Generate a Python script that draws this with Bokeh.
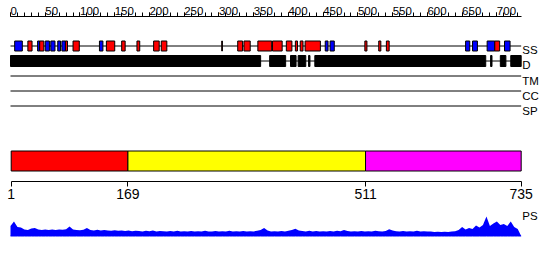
from bokeh.plotting import figure
from bokeh.models import Range1d, LinearAxis, FixedTicker
from bokeh.core.properties import value
from bokeh.embed import file_html
from bokeh.resources import INLINE

# ---------------- data ----------------
SEQ_LEN = 735

top_ticks = [0, 50, 100, 150, 200, 250, 300, 350, 400, 450, 500, 550, 600, 650, 700]
top_tick_labels = ["0", "50", "100", "150", "200", "250", "300", "350", "400",
                   "450", "500", "550", "600", "650", "700"]
top_minor_ticks = list(range(0, SEQ_LEN + 1, 10))

# secondary structure elements (H = helix, red; E = strand, blue)
ss_start = [6, 25, 39, 42, 50, 58, 68, 74, 79, 90,
            128, 138, 160, 182, 206, 217, 304, 327, 336, 356,
            377, 397, 410, 417, 424, 453, 460, 510, 530, 541,
            655, 665, 686, 697, 711]
ss_end = [17, 31, 42, 48, 56, 64, 72, 79, 82, 99,
          133, 150, 165, 186, 214, 225, 305, 334, 345, 376,
          391, 405, 413, 421, 446, 457, 466, 513, 533, 545,
          661, 672, 697, 704, 719]
ss_type = ["E", "H", "E", "H", "E", "E", "E", "E", "H", "H",
           "E", "H", "H", "H", "H", "H", "H", "H", "H", "H",
           "H", "H", "H", "H", "H", "E", "E", "H", "H", "H",
           "E", "E", "E", "H", "E"]

# disorder / domain track blocks
d_start = [0, 373, 403, 414, 429, 438, 691, 705, 720]
d_end = [360, 396, 411, 425, 431, 684, 693, 713, 735]

track_names = ["SS", "D", "TM", "CC", "SP"]

# domain boundaries
domain_start = [1, 169, 511]
domain_end = [169, 511, 735]
boundary_ticks = [1, 169, 511, 735]

# PS profile (sampled every 5 residues)
ps_pos = list(range(0, SEQ_LEN + 1, 5))
ps_val = [0.50, 0.72, 0.45, 0.42, 0.33, 0.30, 0.38, 0.40, 0.33, 0.30,
          0.33, 0.30, 0.32, 0.30, 0.33, 0.31, 0.34, 0.48, 0.32, 0.30,
          0.29, 0.31, 0.40, 0.30, 0.28, 0.31, 0.27, 0.30, 0.28, 0.26,
          0.29, 0.26, 0.27, 0.25, 0.27, 0.24, 0.26, 0.25, 0.23, 0.26,
          0.24, 0.27, 0.23, 0.25, 0.24, 0.22, 0.25, 0.23, 0.26, 0.22,
          0.24, 0.23, 0.25, 0.22, 0.24, 0.23, 0.26, 0.22, 0.23, 0.25,
          0.22, 0.24, 0.23, 0.26, 0.22, 0.24, 0.23, 0.25, 0.22, 0.24,
          0.23, 0.26, 0.30, 0.40, 0.27, 0.23, 0.24, 0.22, 0.25, 0.23,
          0.26, 0.30, 0.36, 0.27, 0.25, 0.23, 0.26, 0.22, 0.25, 0.23,
          0.24, 0.22, 0.25, 0.23, 0.26, 0.24, 0.30, 0.25, 0.22, 0.24,
          0.23, 0.25, 0.22, 0.24, 0.23, 0.26, 0.24, 0.22, 0.25, 0.34,
          0.27, 0.24, 0.23, 0.25, 0.22, 0.24, 0.23, 0.26, 0.22, 0.24,
          0.23, 0.22, 0.20, 0.21, 0.20, 0.21, 0.20, 0.22, 0.24, 0.30,
          0.45, 0.32, 0.40, 0.35, 0.52, 0.42, 0.55, 0.98, 0.50, 0.62,
          0.72, 0.55, 0.60, 0.50, 0.72, 0.45, 0.35, 0.00]

# ---------------- styles / layout ----------------
SS_COLORS = {"H": "#ff0000", "E": "#0000ff"}
DOMAIN_COLORS = ["#ff0000", "#ffff00", "#ff00ff"]
FONT = "Liberation Sans"

TOP_AXIS_Y = 15.5
TRACK_Y = {"SS": 45.5, "D": 60.5, "TM": 75.5, "CC": 90.5, "SP": 105.5}
LABEL_Y = {"SS": 49.5, "D": 64.5, "TM": 80.0, "CC": 95.0, "SP": 110.0}
SS_HALF = 5.0
D_HALF = 5.5
DOM_TOP, DOM_BOT = 150.5, 170.5
BOT_AXIS_Y = 180.5

p = figure(width=550, height=260, output_backend="svg", toolbar_location=None,
           x_axis_type=None, y_axis_type=None,
           x_range=Range1d(-14.4, 777.2), y_range=Range1d(260, 0),
           min_border=0, outline_line_color=None)
p.background_fill_color = "white"
p.border_fill_color = "white"
p.extra_y_ranges = {"ps": Range1d(-1.225, 11.775)}

# top ruler
top_axis = LinearAxis(fixed_location=TOP_AXIS_Y,
                      ticker=FixedTicker(ticks=top_ticks, minor_ticks=top_minor_ticks),
                      bounds=(0, SEQ_LEN))
top_axis.axis_line_color = "black"
top_axis.major_tick_out = 4
top_axis.major_tick_in = 0
top_axis.minor_tick_out = 4
top_axis.minor_tick_in = 0
top_axis.major_label_overrides = {t: "" for t in top_ticks}
p.add_layout(top_axis, "above")
p.text(x=top_ticks, y=[10.5] * len(top_ticks), text=top_tick_labels,
       text_font=value(FONT), text_font_size="11.5px", text_align="left",
       text_baseline="alphabetic", text_color="black")

# track base lines
line_names = ["SS", "D", "TM", "CC", "SP"]
p.segment(x0=[0] * len(line_names), x1=[SEQ_LEN] * len(line_names),
          y0=[TRACK_Y[n] for n in line_names], y1=[TRACK_Y[n] for n in line_names],
          line_color="black", line_width=1)

# SS boxes
p.quad(left=ss_start, right=ss_end,
       top=[TRACK_Y["SS"] - SS_HALF] * len(ss_start),
       bottom=[TRACK_Y["SS"] + SS_HALF] * len(ss_start),
       fill_color=[SS_COLORS[t] for t in ss_type], line_color="black", line_width=1)

# D blocks
p.quad(left=d_start, right=d_end,
       top=[TRACK_Y["D"] - D_HALF] * len(d_start),
       bottom=[TRACK_Y["D"] + D_HALF] * len(d_start),
       fill_color="black", line_color="black", line_width=1)

# track labels
p.text(x=[736.5] * len(track_names), y=[LABEL_Y[n] for n in track_names], text=track_names,
       text_font=value(FONT), text_font_size="11.5px", text_align="left",
       text_baseline="alphabetic", text_color="black")

# domain bar
p.quad(left=domain_start, right=domain_end,
       top=[DOM_TOP] * len(domain_start), bottom=[DOM_BOT] * len(domain_start),
       fill_color=DOMAIN_COLORS, line_color="black", line_width=1)

# boundary axis
bot_axis = LinearAxis(fixed_location=BOT_AXIS_Y,
                      ticker=FixedTicker(ticks=boundary_ticks, minor_ticks=[]),
                      bounds=(1, SEQ_LEN))
bot_axis.axis_line_color = "black"
bot_axis.major_tick_out = 5
bot_axis.major_tick_in = 0
bot_axis.minor_tick_out = 0
bot_axis.minor_tick_in = 0
bot_axis.major_label_standoff = 3
bot_axis.major_label_text_font = FONT
bot_axis.major_label_text_font_size = "14px"
bot_axis.major_label_text_color = "black"
p.add_layout(bot_axis, "below")

# PS profile
p.varea(x=ps_pos, y1=[0] * len(ps_pos), y2=ps_val, y_range_name="ps",
        fill_color="#0000ff")
p.line(x=ps_pos, y=[0] * len(ps_pos), y_range_name="ps", line_color="#0000ff", line_width=1)
p.text(x=[736.5], y=[215.0], text=["PS"],
       text_font=value(FONT), text_font_size="11.5px", text_align="left",
       text_baseline="alphabetic", text_color="black")

open("out.html", "w").write(file_html(p, INLINE))
